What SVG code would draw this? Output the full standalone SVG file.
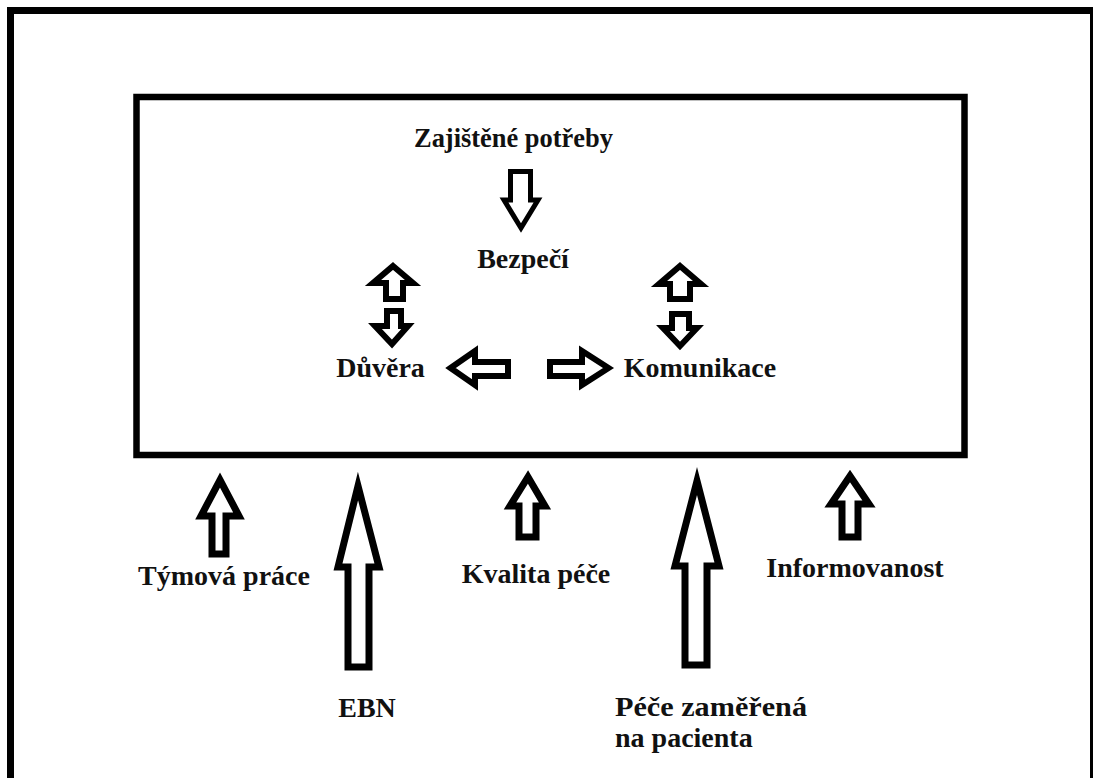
<svg xmlns="http://www.w3.org/2000/svg" width="1093" height="778" viewBox="0 0 1093 778">
<style>
.frame{fill:none;stroke:#000;stroke-width:7}
.box{fill:none;stroke:#000;stroke-width:6.5}
.ar{fill:#fff;stroke:#000;stroke-width:6;stroke-linejoin:miter;stroke-miterlimit:10}
.arb{fill:#fff;stroke:#000;stroke-width:7;stroke-linejoin:miter;stroke-miterlimit:10}
.t{font-family:"Liberation Serif","Times New Roman",serif;font-weight:bold;font-size:28px;fill:#111;text-anchor:middle}
</style>
<rect width="1093" height="778" fill="#fff"/>
<rect class="frame" x="10.5" y="10.5" width="1083" height="800"/>
<g id="main-box">
<rect class="box" x="136.5" y="97" width="828" height="358"/>
</g>
<g id="n-zajistene"><text class="t" x="513.5" y="147" textLength="199" lengthAdjust="spacingAndGlyphs">Zajištěné potřeby</text></g>
<g id="n-bezpeci"><text class="t" x="523" y="268">Bezpečí</text></g>
<g id="n-duvera"><text class="t" x="380.5" y="377">Důvěra</text></g>
<g id="n-komunikace"><text class="t" x="700" y="377">Komunikace</text></g>
<g id="n-tymova"><text class="t" x="224" y="585">Týmová práce</text></g>
<g id="n-kvalita"><text class="t" x="536" y="583">Kvalita péče</text></g>
<g id="n-informovanost"><text class="t" x="855" y="577">Informovanost</text></g>
<g id="n-ebn"><text class="t" x="367" y="717">EBN</text></g>
<g id="n-pece"><text class="t" x="615" y="716" style="text-anchor:start" textLength="192" lengthAdjust="spacingAndGlyphs">Péče zaměřená</text><text class="t" x="615" y="747" style="text-anchor:start">na pacienta</text></g>
<g id="connectors">
<polygon class="ar" style="stroke-width:5" points="510.5,171.5 530.5,171.5 530.5,200 538,200 521,228 504,200 510.5,200"/>
<polygon class="ar" points="393,266 413,283 403,283 403,299 386,299 386,283 373,283"/>
<polygon class="ar" points="387,311 401,311 401,326 408,326 392,344 375,326 387,326"/>
<polygon class="ar" points="680,266 701,284 690,284 690,299 670,299 670,284 659,284"/>
<polygon class="ar" points="672,314 689,314 689,328 697,328 680,346 663,328 672,328"/>
<polygon class="ar" points="450.5,368 475,351 475,362 508,362 508,376 475,376 475,385"/>
<polygon class="ar" points="550,362 582,362 582,351 608.5,368 582,385 582,376 550,376"/>
<polygon class="arb" points="220,480 239,516 226,516 226,554 212,554 212,516 201,516"/>
<polygon class="arb" points="358,486 379,567 369,567 369,667 348,667 348,567 338,567"/>
<polygon class="arb" points="528,477 545,506 536,506 536,537 519,537 519,506 510,506"/>
<polygon class="arb" points="697,481 719,566 707,566 707,665 685,665 685,566 675,566"/>
<polygon class="arb" points="850,476 869,504 858,504 858,537 842,537 842,504 831,504"/>
</g>
</svg>
